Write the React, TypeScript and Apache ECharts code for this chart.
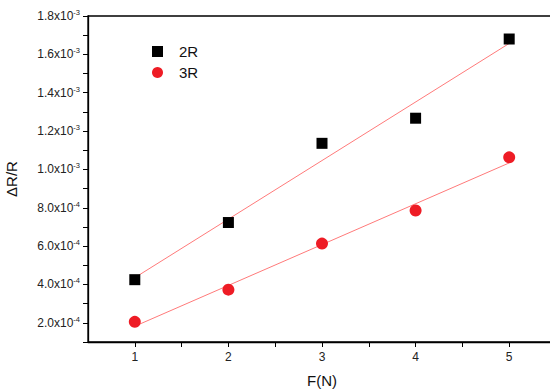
import React, { useEffect, useRef } from "react";
import * as echarts from "echarts";

const forces = [1, 2, 3, 4, 5];
const series2R = [4.25e-4, 7.23e-4, 1.136e-3, 1.267e-3, 1.68e-3];
const series3R = [2.05e-4, 3.73e-4, 6.13e-4, 7.86e-4, 1.063e-3];
const legendNames = ["2R", "3R"];

function fit(xs: number[], ys: number[]) {
  const n = xs.length;
  const mx = xs.reduce((a, b) => a + b, 0) / n;
  const my = ys.reduce((a, b) => a + b, 0) / n;
  let num = 0, den = 0;
  for (let i = 0; i < n; i++) {
    num += (xs[i] - mx) * (ys[i] - my);
    den += (xs[i] - mx) * (xs[i] - mx);
  }
  const k = num / den;
  const b = my - k * mx;
  const x0 = xs[0], x1 = xs[n - 1];
  return [[x0, k * x0 + b], [x1, k * x1 + b]];
}

function sciLabel(v: number) {
  const steps = Math.round(v / 1e-4);
  if (steps % 2 !== 0) return "";
  const e = Math.floor(Math.log10(v) + 1e-9);
  const m = v / Math.pow(10, e);
  return `{a|${m.toFixed(1)}x10}{s|${e}}`;
}

export default function App() {
  const ref = useRef<HTMLDivElement>(null);
  useEffect(() => {
    const chart = echarts.init(ref.current!, undefined, { renderer: "svg" });
    const font = "Liberation Sans, Arial, sans-serif";
    chart.setOption({
      animation: false,
      backgroundColor: "#ffffff",
      grid: {
        left: 88,
        width: 468,
        top: 16,
        bottom: 50,
        outerBoundsMode: "none",
        containLabel: false,
        show: true,
        borderColor: "#000",
        borderWidth: 1.3,
        backgroundColor: "transparent",
      },
      legend: {
        data: legendNames.map((n) => ({ name: n })),
        orient: "vertical",
        left: 147,
        top: 39,
        itemWidth: 11,
        itemHeight: 11,
        itemGap: 6,
        textStyle: { fontFamily: font, fontSize: 15, color: "#111", padding: [0, 0, 0, 11] },
      },
      xAxis: {
        type: "value",
        min: 0.5,
        max: 5.5,
        interval: 0.5,
        name: "F(N)",
        nameLocation: "middle",
        nameGap: 31,
        nameTextStyle: { fontFamily: font, fontSize: 15, color: "#111" },
        axisLine: { lineStyle: { color: "#000", width: 1.3 } },
        axisTick: { inside: false, length: 5, lineStyle: { color: "#000" } },
        axisLabel: {
          fontFamily: font,
          fontSize: 12,
          color: "#222",
          margin: 9,
          showMinLabel: false,
          showMaxLabel: false,
          formatter: (v: number) => (Math.abs(v - Math.round(v)) < 1e-6 ? String(Math.round(v)) : ""),
        },
        splitLine: { show: false },
      },
      yAxis: {
        type: "value",
        min: 1e-4,
        max: 1.8e-3,
        interval: 1e-4,
        name: "ΔR/R",
        nameLocation: "middle",
        nameGap: 69,
        nameRotate: 90,
        nameTextStyle: { fontFamily: font, fontSize: 15, color: "#111" },
        axisLine: { show: true, lineStyle: { color: "#000", width: 1.3 } },
        axisTick: { show: true, inside: false, length: 5, lineStyle: { color: "#000" } },
        axisLabel: {
          fontFamily: font,
          color: "#222",
          margin: 8,
          formatter: sciLabel,
          rich: {
            a: { fontFamily: font, fontSize: 12, color: "#222" },
            s: { fontFamily: font, fontSize: 7.5, color: "#222", verticalAlign: "bottom", padding: [0, 0, 7, 0] },
          },
        },
        splitLine: { show: false },
      },
      series: [
        {
          name: "2R fit",
          type: "line",
          data: fit(forces, series2R),
          showSymbol: false,
          symbol: "none",
          lineStyle: { color: "#ff7a7a", width: 1 },
          z: 1,
        },
        {
          name: "3R fit",
          type: "line",
          data: fit(forces, series3R),
          showSymbol: false,
          symbol: "none",
          lineStyle: { color: "#ff7a7a", width: 1 },
          z: 1,
        },
        {
          name: "2R",
          type: "scatter",
          symbol: "rect",
          symbolSize: 11,
          itemStyle: { color: "#000", opacity: 1 },
          data: forces.map((f, i) => [f, series2R[i]]),
          z: 3,
        },
        {
          name: "3R",
          type: "scatter",
          symbol: "circle",
          symbolSize: 12,
          itemStyle: { color: "#ee1c25", opacity: 1 },
          data: forces.map((f, i) => [f, series3R[i]]),
          z: 3,
        },
      ],
    });
    return () => chart.dispose();
  }, []);
  return <div ref={ref} style={{ width: 550, height: 392, position: "absolute", left: 0, top: 0 }} />;
}
